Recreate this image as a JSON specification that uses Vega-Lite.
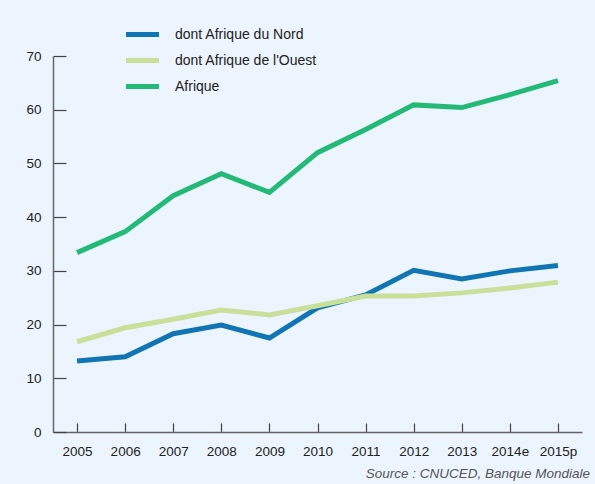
{
  "$schema": "https://vega.github.io/schema/vega-lite/v6.json",
  "width": 529,
  "height": 376,
  "autosize": "none",
  "padding": {"left": 53, "top": 56, "right": 13, "bottom": 52},
  "background": "#ECF5FD",
  "config": {
    "view": {"stroke": null},
    "font": "Liberation Sans"
  },
  "title": {
    "text": "Source : CNUCED, Banque Mondiale",
    "orient": "bottom",
    "anchor": "end",
    "fontSize": 13.5,
    "fontStyle": "italic",
    "fontWeight": "normal",
    "color": "#555555",
    "offset": 9,
    "dx": 8
  },
  "data": {
    "values": [
      {"annee": "2005", "serie": "dont Afrique du Nord", "valeur": 13.2},
      {"annee": "2006", "serie": "dont Afrique du Nord", "valeur": 14.0},
      {"annee": "2007", "serie": "dont Afrique du Nord", "valeur": 18.3},
      {"annee": "2008", "serie": "dont Afrique du Nord", "valeur": 19.9},
      {"annee": "2009", "serie": "dont Afrique du Nord", "valeur": 17.5},
      {"annee": "2010", "serie": "dont Afrique du Nord", "valeur": 23.1},
      {"annee": "2011", "serie": "dont Afrique du Nord", "valeur": 25.5},
      {"annee": "2012", "serie": "dont Afrique du Nord", "valeur": 30.1},
      {"annee": "2013", "serie": "dont Afrique du Nord", "valeur": 28.5},
      {"annee": "2014e", "serie": "dont Afrique du Nord", "valeur": 30.0},
      {"annee": "2015p", "serie": "dont Afrique du Nord", "valeur": 31.0},
      {"annee": "2005", "serie": "dont Afrique de l'Ouest", "valeur": 16.8},
      {"annee": "2006", "serie": "dont Afrique de l'Ouest", "valeur": 19.4},
      {"annee": "2007", "serie": "dont Afrique de l'Ouest", "valeur": 21.0},
      {"annee": "2008", "serie": "dont Afrique de l'Ouest", "valeur": 22.7},
      {"annee": "2009", "serie": "dont Afrique de l'Ouest", "valeur": 21.8},
      {"annee": "2010", "serie": "dont Afrique de l'Ouest", "valeur": 23.5},
      {"annee": "2011", "serie": "dont Afrique de l'Ouest", "valeur": 25.3},
      {"annee": "2012", "serie": "dont Afrique de l'Ouest", "valeur": 25.3},
      {"annee": "2013", "serie": "dont Afrique de l'Ouest", "valeur": 25.9},
      {"annee": "2014e", "serie": "dont Afrique de l'Ouest", "valeur": 26.8},
      {"annee": "2015p", "serie": "dont Afrique de l'Ouest", "valeur": 27.9},
      {"annee": "2005", "serie": "Afrique", "valeur": 33.4},
      {"annee": "2006", "serie": "Afrique", "valeur": 37.3},
      {"annee": "2007", "serie": "Afrique", "valeur": 44.0},
      {"annee": "2008", "serie": "Afrique", "valeur": 48.1},
      {"annee": "2009", "serie": "Afrique", "valeur": 44.6},
      {"annee": "2010", "serie": "Afrique", "valeur": 52.0},
      {"annee": "2011", "serie": "Afrique", "valeur": 56.3},
      {"annee": "2012", "serie": "Afrique", "valeur": 60.9},
      {"annee": "2013", "serie": "Afrique", "valeur": 60.4},
      {"annee": "2014e", "serie": "Afrique", "valeur": 62.8},
      {"annee": "2015p", "serie": "Afrique", "valeur": 65.4}
    ]
  },
  "mark": {"type": "line", "strokeWidth": 5, "strokeCap": "butt", "strokeJoin": "miter"},
  "encoding": {
    "x": {
      "field": "annee",
      "type": "ordinal",
      "scale": {"type": "point", "padding": 0.5},
      "axis": {
        "title": null,
        "labelAngle": 0,
        "labelFontSize": 13.5,
        "labelColor": "#222222",
        "domainColor": "#666666",
        "domainWidth": 1.5,
        "tickColor": "#444444",
        "tickWidth": 1.2,
        "tickSize": -9,
        "labelPadding": 21,
        "grid": false
      }
    },
    "y": {
      "field": "valeur",
      "type": "quantitative",
      "scale": {"domain": [0, 70], "nice": false},
      "axis": {
        "title": null,
        "values": [0, 10, 20, 30, 40, 50, 60, 70],
        "labelFontSize": 13.5,
        "labelColor": "#222222",
        "domainColor": "#666666",
        "domainWidth": 1.5,
        "tickColor": "#444444",
        "tickWidth": 1.2,
        "tickSize": -13,
        "labelPadding": 25,
        "grid": false
      }
    },
    "color": {
      "field": "serie",
      "type": "nominal",
      "sort": ["dont Afrique du Nord", "dont Afrique de l'Ouest", "Afrique"],
      "scale": {
        "domain": ["dont Afrique du Nord", "dont Afrique de l'Ouest", "Afrique"],
        "range": ["#1275B3", "#C8E09A", "#25B977"]
      },
      "legend": {
        "title": null,
        "orient": "none",
        "legendX": 76,
        "legendY": -35,
        "padding": 0,
        "symbolType": "M-1.5,0H1.5",
        "symbolSize": 484,
        "symbolStrokeWidth": 5,
        "labelFontSize": 14,
        "labelColor": "#222222",
        "labelOffset": 19,
        "rowPadding": 2
      }
    }
  }
}
